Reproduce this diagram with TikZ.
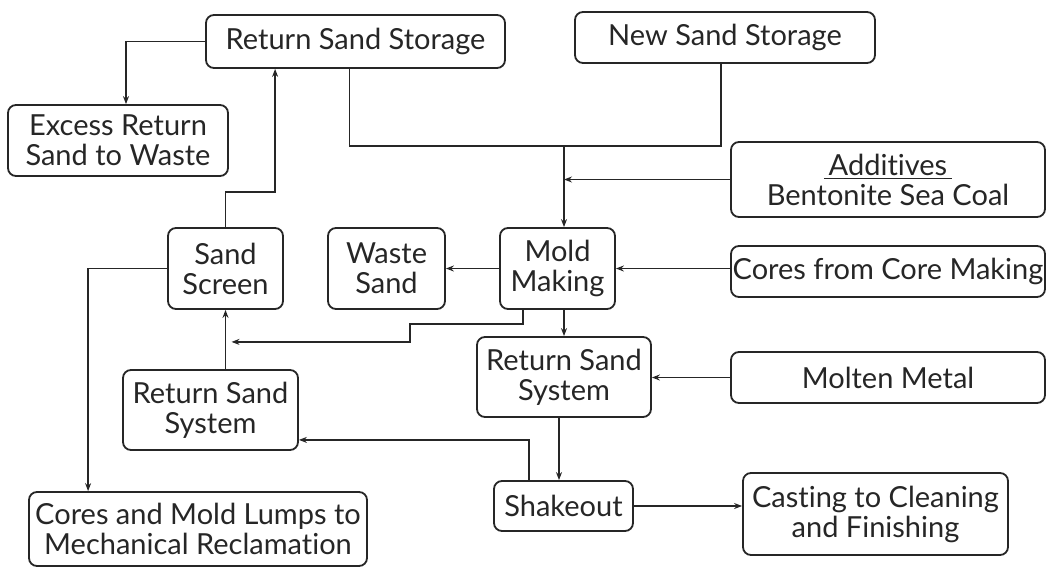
\documentclass[tikz,border=0pt]{standalone}
\usepackage{fontspec}
\setmainfont{Lato}[Ligatures=NoCommon]
\usetikzlibrary{arrows.meta,calc}

\begin{document}
\begin{tikzpicture}[x=0.5pt,y=-0.5pt,
	box/.style={draw=black!85, line width=0.9pt, rounded corners=4pt, align=center, inner sep=0pt, text=black!85, font=\fontsize{14.5}{15}\selectfont},
	boxsize/.style 2 args={minimum width=#1*0.5pt, minimum height=#2*0.5pt},
	flow/.style={line width=0.8pt, draw=black!85},
	>={Stealth[length=4pt,width=3pt]}]

	\useasboundingbox (0,0) rectangle (1048,573);

	% storage
	\node [box, boxsize={299}{53}] (store) at (355.5,41.5) {Return Sand Storage};
	\node [box, boxsize={300}{51}] (newsand) at (725,37.5) {New Sand Storage};
	\node [box, boxsize={220}{71}] (excess) at (118,140.5) {Excess Return\\Sand to Waste};

	% inputs
	\node [box, boxsize={314}{75}] (additives) at (888,179.5) {\underline{\,Additives\,}\\Bentonite Sea Coal};
	\node [box, boxsize={314}{51}] (coremaking) at (888,271.5) {Cores from Core Making};
	\node [box, boxsize={314}{51}] (molten) at (888,377.5) {Molten Metal};

	% process
	\node [box, boxsize={115}{81}] (mold) at (557.5,268.5) {Mold\\Making};
	\node [box, boxsize={117}{81}] (waste) at (386.5,268.5) {Waste\\Sand};
	\node [box, boxsize={115}{81}] (screen) at (225.5,268.5) {Sand\\Screen};
	\node [box, boxsize={174}{80}] (sysright) at (564,377) {Return Sand\\System};
	\node [box, boxsize={175}{80}] (sysleft) at (210.5,410) {Return Sand\\System};
	\node [box, boxsize={139}{50}] (shakeout) at (563.5,506) {Shakeout};
	\node [box, boxsize={265}{82}] (casting) at (875.5,514) {Casting to Cleaning\\and Finishing};
	\node [box, boxsize={338}{74}] (lumps) at (198,529) {Cores and Mold Lumps to\\Mechanical Reclamation};

	% sand to mold making
	\path (sysright.north) ++(0,-190) coordinate (join);
	\draw [flow] ([xshift=-3pt]store.south) |- (join) -| ([xshift=-2pt]newsand.south);
	\draw [flow,->] (join) -- (join |- mold.north);
	\draw [flow,->] (additives.west) -- (additives.west -| join);
	\draw [flow,->] (mold.east -| coremaking.west) -- (mold.east);
	\draw [flow,->] (mold.west) -- (waste.east);
	\draw [flow,->] (sysright.north |- mold.south) -- (sysright.north);
	\draw [flow,->] (molten.west) -- (molten.west -| sysright.east);
	\draw [flow,->] ([xshift=-2.5pt]sysright.south) -- ([xshift=-2.5pt]sysright.south |- shakeout.north);
	\draw [flow,->] (shakeout.east) -- (shakeout.east -| casting.west);

	% return loop
	\draw [flow,->] ($(shakeout.north west)+(36,0)$) |- ($(sysleft.south east)+(0,-11)$);
	\draw [flow,->] (sysleft.north -| screen.south) -- (screen.south);
	\draw [flow,->] ($(mold.south west)+(24,0)$) |- ++(-113,14) |- ($(screen.south)+(6,32)$);
	\draw [flow,->] (screen.north) -- ++(0,-35) -| ($(store.south west)+(70,0)$);
	\draw [flow,->] (screen.west) -| ($(lumps.north west)+(60,0)$);
	\draw [flow,->] (store.west) -| ([xshift=4pt]excess.north);

\end{tikzpicture}
\end{document}
